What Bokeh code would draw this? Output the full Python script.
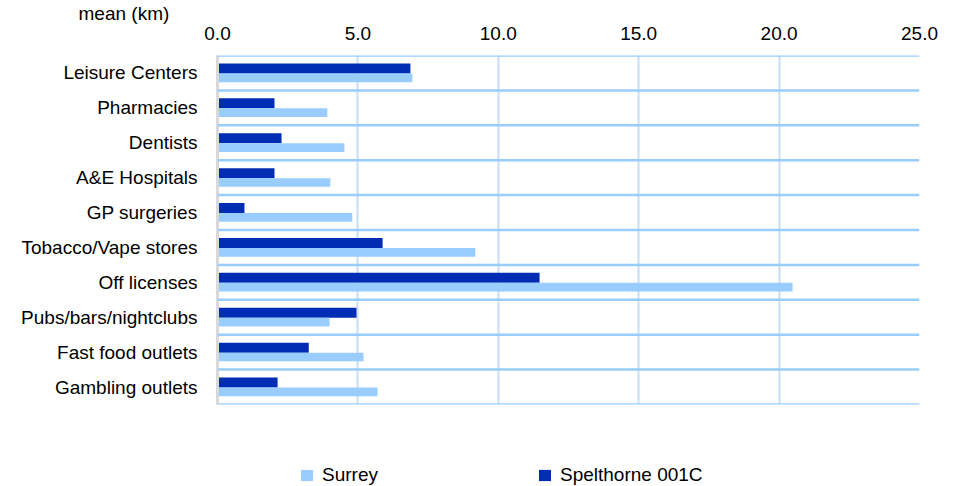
from bokeh.plotting import figure
from bokeh.layouts import column
from bokeh.models import (FactorRange, Range1d, FixedTicker, NumeralTickFormatter,
                          Span, Legend, LegendItem, ColumnDataSource)
from bokeh.transform import dodge
from bokeh.embed import file_html
from bokeh.resources import INLINE

categories = ["Leisure Centers", "Pharmacies", "Dentists", "A&E Hospitals", "GP surgeries",
              "Tobacco/Vape stores", "Off licenses", "Pubs/bars/nightclubs",
              "Fast food outlets", "Gambling outlets"]
surrey = [6.94, 3.91, 4.52, 4.02, 4.80, 9.18, 20.48, 3.99, 5.20, 5.70]
spelthorne = [6.87, 2.03, 2.28, 2.03, 0.96, 5.88, 11.47, 4.95, 3.25, 2.14]
x_ticks = [0, 5, 10, 15, 20, 25]
axis_title = "mean (km)"
series_names = ["Surrey", "Spelthorne 001C"]

FONT = "Liberation Sans"
FS = "19px"
DARK = "#002DB3"
LIGHT = "#99CCFF"

source = ColumnDataSource(dict(cat=categories, surrey=surrey, spelthorne=spelthorne))

p = figure(width=957, height=420, output_backend="svg", toolbar_location=None,
           y_range=FactorRange(factors=categories[::-1], range_padding=0),
           x_range=Range1d(0, 25), x_axis_location="above",
           min_border_left=217, min_border_right=38, min_border_top=54, min_border_bottom=16)
p.outline_line_color = None
p.background_fill_color = "white"
p.border_fill_color = "white"

# title used as the axis caption "mean (km)"
p.title.text = axis_title
p.title.align = "left"
p.title.offset = -139
p.title.text_font = FONT
p.title.text_font_size = FS
p.title.text_font_style = "normal"
p.title.text_color = "#000000"
p.title.standoff = 0
p.title.text_line_height = 1.0

r_dark = p.hbar(y=dodge("cat", 0.129, range=p.y_range), right="spelthorne", left=0, height=0.286,
                source=source, fill_color=DARK, line_color=None)
r_light = p.hbar(y=dodge("cat", -0.139, range=p.y_range), right="surrey", left=0, height=0.25,
                 source=source, fill_color=LIGHT, line_color=None)

# x axis (top)
p.xaxis.ticker = FixedTicker(ticks=x_ticks)
p.xaxis.formatter = NumeralTickFormatter(format="0.0")
p.xaxis.axis_line_color = None
p.xaxis.major_tick_line_color = None
p.xaxis.minor_tick_line_color = None
p.xaxis.major_label_text_font = FONT
p.xaxis.major_label_text_font_size = FS
p.xaxis.major_label_text_color = "#000000"
p.xaxis.major_label_standoff = 10

# y axis
p.yaxis.axis_line_color = "#D9D9D9"
p.yaxis.axis_line_width = 3
p.yaxis.major_tick_line_color = None
p.yaxis.minor_tick_line_color = None
p.yaxis.major_label_text_font = FONT
p.yaxis.major_label_text_font_size = FS
p.yaxis.major_label_text_color = "#000000"
p.yaxis.major_label_standoff = 14

# grids
p.ygrid.grid_line_color = None
p.xgrid.ticker = FixedTicker(ticks=x_ticks)
p.xgrid.grid_line_color = "#C8DDF6"
p.xgrid.grid_line_width = 2

for k in range(len(categories) + 1):
    p.add_layout(Span(location=k, dimension="width", line_color=LIGHT, line_width=2.5))

# legend strip (frame aligned with the chart above by the column layout)
pl = figure(width=957, height=66, output_backend="svg", toolbar_location=None,
            x_range=Range1d(0, 1), y_range=Range1d(0, 1),
            x_axis_type=None, y_axis_type=None,
            min_border_left=0, min_border_right=0, min_border_top=0, min_border_bottom=0)
pl.outline_line_color = None
pl.grid.visible = False
# off-range placeholder renderers, only used for the legend swatches
lg_light = pl.hbar(y=[-5], right=[1], left=0, height=0.1, fill_color=LIGHT, line_color=None)
lg_dark = pl.hbar(y=[-5], right=[1], left=0, height=0.1, fill_color=DARK, line_color=None)

legend = Legend(items=[LegendItem(label=series_names[0], renderers=[lg_light]),
                       LegendItem(label=series_names[1], renderers=[lg_dark])],
                location=(82, 0), orientation="horizontal",
                glyph_width=15, glyph_height=14, label_height=14, label_standoff=8, spacing=159,
                padding=0, margin=0, border_line_color=None, background_fill_alpha=0,
                label_text_font=FONT, label_text_font_size=FS, label_text_color="#000000")
pl.add_layout(legend, "center")

layout = column(p, pl, spacing=0)
open("out.html", "w").write(file_html(layout, INLINE))
